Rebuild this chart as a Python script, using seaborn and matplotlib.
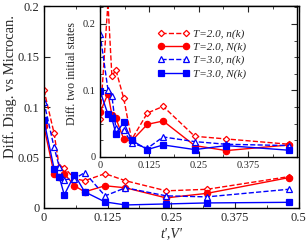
import matplotlib
matplotlib.use("Agg")
import matplotlib.pyplot as plt
import seaborn as sns
import numpy as np
from matplotlib.ticker import MultipleLocator, FixedLocator

# hopping / interaction strength t', V'
x_vals = [0, 0.02, 0.03, 0.04, 0.06, 0.08, 0.12, 0.16, 0.24, 0.32, 0.48]

# main panel: diagonal vs microcanonical
main_T2_n = [0.117, 0.074, 0.041, 0.040, 0.029, 0.027, 0.034, 0.027, 0.017, 0.0185, 0.031]
main_T2_N = [0.081, 0.034, 0.031, 0.034, 0.022, 0.016, 0.022, 0.020, 0.010, 0.0145, 0.030]
main_T3_n = [0.105, 0.060, 0.041, 0.028, 0.029, 0.035, 0.012, 0.020, 0.012, 0.011, 0.0185]
main_T3_N = [0.087, 0.039, 0.031, 0.013, 0.033, 0.016, 0.006, 0.003, 0.004, 0.005, 0.0056]

# inset: two initial states
ins_T2_n = [0.057, 0.232, 0.121, 0.131, 0.088, 0.026, 0.066, 0.076, 0.031, 0.027, 0.019]
ins_T2_N = [0.067, 0.095, 0.063, 0.058, 0.027, 0.024, 0.049, 0.054, 0.017, 0.0095, 0.018]
ins_T3_n = [0.185, 0.101, 0.092, 0.043, 0.040, 0.021, 0.013, 0.030, 0.023, 0.019, 0.017]
ins_T3_N = [0.099, 0.064, 0.058, 0.035, 0.052, 0.025, 0.011, 0.018, 0.011, 0.017, 0.010]

labels = ["T=2.0, n(k)", "T=2.0, N(k)", "T=3.0, n(k)", "T=3.0, N(k)"]

sns.set_style("ticks")
plt.rcParams['font.family'] = ['Liberation Serif', 'DejaVu Serif']

RED = '#ff0000'
BLUE = '#0000ff'
styles = [
    dict(color=RED, marker='D', markersize=3.2, markerfacecolor='white', markeredgecolor=RED, linestyle='--'),
    dict(color=RED, marker='o', markersize=4.5, markerfacecolor=RED, markeredgecolor=RED, linestyle='-'),
    dict(color=BLUE, marker='^', markersize=4.5, markerfacecolor='white', markeredgecolor=BLUE, linestyle='--'),
    dict(color=BLUE, marker='s', markersize=4.0, markerfacecolor=BLUE, markeredgecolor=BLUE, linestyle='-'),
]


def draw(ax, series, with_labels=False):
    for i, ys in enumerate(series):
        sns.lineplot(x=x_vals, y=ys, ax=ax, sort=False, linewidth=1.0,
                     markeredgewidth=0.9,
                     label=labels[i] if with_labels else None, **styles[i])


def style_axes(ax, size):
    ax.tick_params(direction='in', top=True, right=True, which='both', labelsize=size, pad=3)
    ax.tick_params(which='major', length=4)
    ax.tick_params(which='minor', length=2)
    for s in ax.spines.values():
        s.set_linewidth(1.0)
        s.set_color('black')


fig = plt.figure(figsize=(3.07, 2.41), dpi=100)
ax = fig.add_axes([0.143, 0.137, 0.83, 0.838])
draw(ax, [main_T2_n, main_T2_N, main_T3_n, main_T3_N])
ax.set_xlim(0, 0.5)
ax.set_ylim(0, 0.2)
ax.xaxis.set_major_locator(FixedLocator([0, 0.125, 0.25, 0.375, 0.5]))
ax.xaxis.set_minor_locator(MultipleLocator(0.0625))
ax.set_xticklabels(['0', '0.125', '0.25', '0.375', '0.5'])
ax.yaxis.set_major_locator(FixedLocator([0, 0.05, 0.1, 0.15, 0.2]))
ax.set_yticklabels(['0', '0.05', '0.1', '0.15', '0.2'])
style_axes(ax, 9)
ax.set_xlabel("t',V'", fontsize=10, fontstyle='italic', labelpad=2)
ax.set_ylabel("Diff. Diag. vs Microcan.", fontsize=10.5)
ax.yaxis.set_label_coords(-0.105, 0.6)

ins = fig.add_axes([0.326, 0.349, 0.642, 0.626])
draw(ins, [ins_T2_n, ins_T2_N, ins_T3_n, ins_T3_N], with_labels=True)
ins.set_xlim(0, 0.5)
ins.set_ylim(0, 0.227)
ins.xaxis.set_major_locator(FixedLocator([0, 0.125, 0.25, 0.375]))
ins.xaxis.set_minor_locator(MultipleLocator(0.0625))
ins.set_xticklabels(['0', '0.125', '0.25', '0.375'])
ins.yaxis.set_major_locator(FixedLocator([0, 0.1, 0.2]))
ins.yaxis.set_minor_locator(MultipleLocator(0.025))
ins.set_yticklabels(['0', '0.1', '0.2'])
style_axes(ins, 7.5)
ins.set_ylabel("Diff. two initial states", fontsize=8.5)
ins.yaxis.set_label_coords(-0.112, 0.55)
ins.set_xlabel("")

leg = ins.legend(loc='upper left', bbox_to_anchor=(0.29, 0.85), frameon=False,
                 fontsize=8, handlelength=2.9, handletextpad=0.3, labelspacing=0.3,
                 numpoints=2, borderaxespad=0, borderpad=0)
for t in leg.get_texts():
    t.set_fontstyle('italic')

fig.savefig("out.png", dpi=100)
